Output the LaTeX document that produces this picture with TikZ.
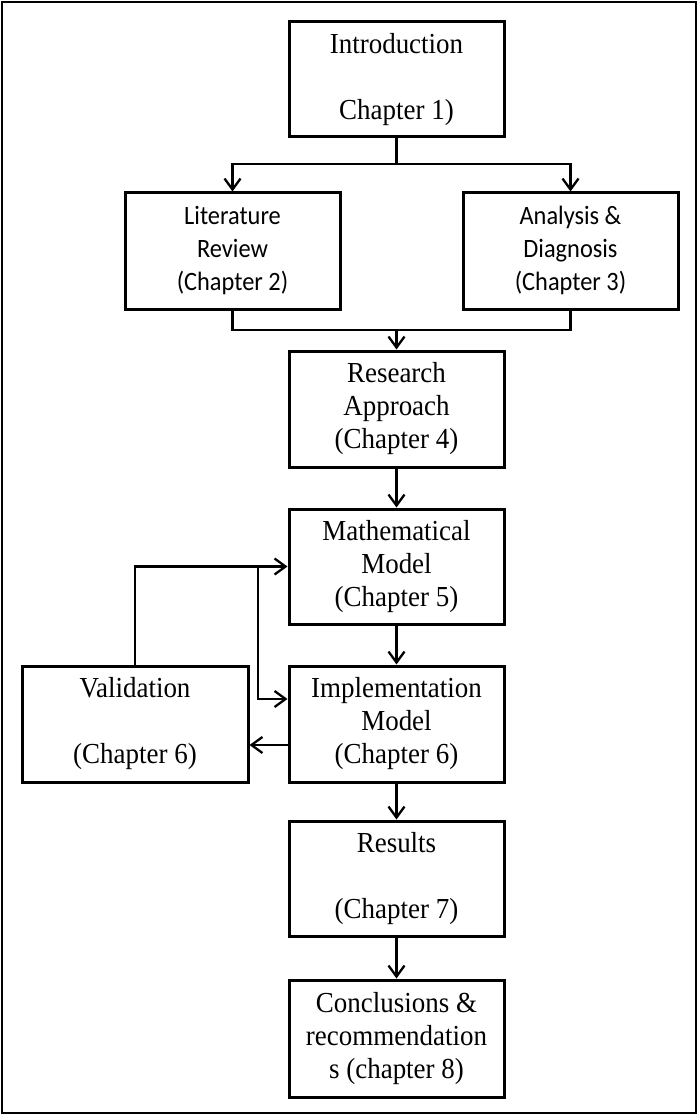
\documentclass[tikz,border=0pt]{standalone}
\usepackage{fontspec}
\setmainfont{Liberation Serif}[FakeStretch=0.93]
\newfontfamily\calib{Carlito}[FakeStretch=0.92]
\usetikzlibrary{arrows.meta}
\tikzset{
  box/.style={draw, line width=3pt, rectangle, inner sep=0pt, align=center,
    minimum width=215pt, minimum height=116pt,
    font=\fontsize{29}{33}\selectfont},
  sbox/.style={box, font=\calib\fontsize{26.5}{33}\selectfont},
  conn/.style={line width=2.3pt},
  arr/.style={conn, -{Straight Barb[length=11pt,width=16pt,line width=2.3pt]}},
}
\begin{document}
\begin{tikzpicture}[x=1pt,y=-1pt]
\useasboundingbox (0,0) rectangle (698,1115);
\draw[line width=2.2pt] (2,2) rectangle (696,1113);

\node[box, minimum height=115pt] (intro) at (396.5,79.5) {\strut Introduction\\\strut\\\strut Chapter 1)};
\node[sbox] (lit) at (232.5,251) {\strut Literature\\\strut Review\\\strut (Chapter 2)};
\node[sbox] (ana) at (570.5,251) {\strut Analysis \&\\\strut Diagnosis\\\strut (Chapter 3)};
\node[box] (res) at (396.5,409) {\strut Research\\\strut Approach\\\strut (Chapter 4)};
\node[box, minimum height=115pt] (math) at (396.5,566.5) {\strut Mathematical\\\strut Model\\\strut (Chapter 5)};
\node[box, minimum width=226pt] (val) at (135,724) {\strut Validation\\\strut\\\strut (Chapter 6)};
\node[box] (impl) at (396.5,724) {\strut Implementation\\\strut Model\\\strut (Chapter 6)};
\node[box, minimum height=115pt] (resu) at (396.5,878.5) {\strut Results\\\strut\\\strut (Chapter 7)};
\node[box, minimum height=117pt] (conc) at (396.5,1038.5) {\strut Conclusions \&\\\strut recommendation\\\strut s (chapter 8)};

\coordinate (j1) at (396.5,164);
\coordinate (j2) at (396.5,330);
\coordinate (fb) at (258,566.5);

\draw[conn] (intro.south) -- (j1);
\draw[arr] (j1) -| (lit.north);
\draw[arr] (j1) -| (ana.north);
\draw[conn] (lit.south) |- (j2);
\draw[conn] (ana.south) |- (j2);
\draw[arr] (j2) -- (res.north);
\draw[arr] (res.south) -- (math.north);
\draw[arr] (math.south) -- (impl.north);
\draw[arr] (impl.south) -- (resu.north);
\draw[arr] (resu.south) -- (conc.north);
\draw[arr] (val.north) |- (math.west);
\draw[arr] (fb) |- ([yshift=25pt]impl.west);
\draw[arr] ([yshift=-21pt]impl.west) -- ([yshift=-21pt]val.east);
\end{tikzpicture}
\end{document}
